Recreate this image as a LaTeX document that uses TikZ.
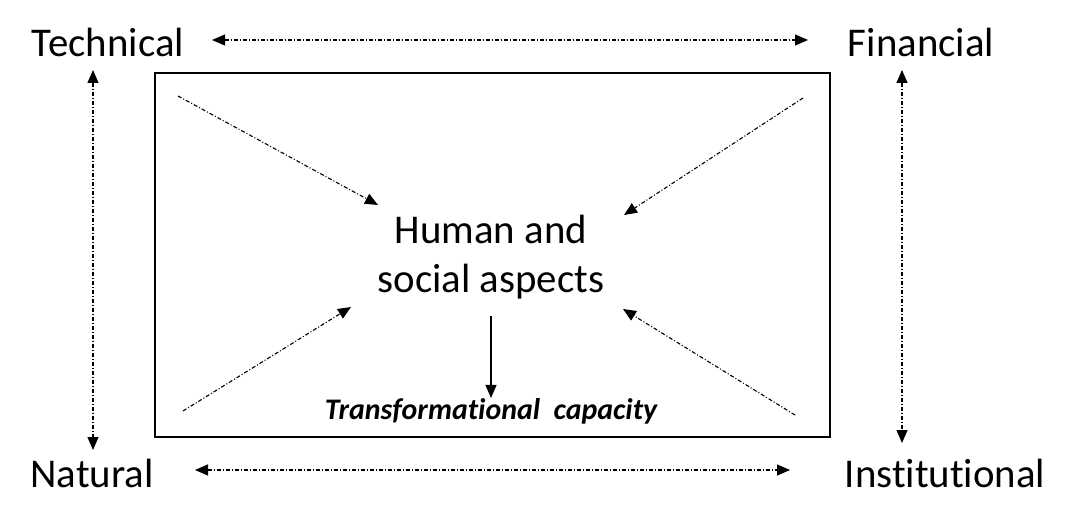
\documentclass[tikz,border=0pt]{standalone}
\usepackage{fontspec}
\setmainfont[Ligatures=NoCommon]{Carlito}
\usetikzlibrary{arrows.meta,positioning}

\begin{document}
\begin{tikzpicture}[
  x=1bp, y=-1bp,
  lbl/.style={font=\fontsize{41}{49}\selectfont, inner sep=0pt},
  darr/.style={{Triangle[length=13bp,width=11bp]}-{Triangle[length=13bp,width=11bp]}, line width=1.1bp,
    dash pattern=on 4bp off 2bp on 1bp off 2bp},
  inarr/.style={-{Triangle[length=13bp,width=11bp]}, line width=1.1bp,
    dash pattern=on 4bp off 2bp on 1bp off 2bp},
  arr/.style={-{Triangle[length=13bp,width=11bp]}, line width=1.1bp}
]
\useasboundingbox (0,0) rectangle (1077,523);
\node[lbl] (tech) at (108,42) {Technical};
\node[lbl] (fin) at (921,42) {Financial};
\node[lbl] (nat) at (92,473) {Natural};
\node[lbl] (inst) at (945,473) {Institutional};
\node[draw, line width=1.6bp, minimum width=675bp, minimum height=364bp, inner sep=0pt] (box) at (492.5,255) {};
\node[lbl, align=center] (hum) at (491,257) {Human and\\social aspects};
\node[font=\fontsize{30}{36}\selectfont\bfseries\itshape, inner sep=0pt] (trans) at (491,411) {Transformational~ capacity};
% outer links
\coordinate (t1) at (212,40);
\coordinate (t2) at (808,40);
\coordinate (n1) at (195,470);
\coordinate (n2) at (790,470);
\coordinate (v1) at (93,70);
\coordinate (v2) at (93,450);
\coordinate (w1) at (902,70);
\coordinate (w2) at (902,443);
\draw[darr] (t1) -- (t2);
\draw[darr] (n1) -- (n2);
\draw[darr] (v1) -- (v2);
\draw[darr] (w1) -- (w2);
% pointing in
\coordinate (tl) at (178,96);
\coordinate (tr) at (803,98);
\coordinate (bl) at (183,411);
\coordinate (br) at (795,415);
\coordinate (tl2) at (378,205);
\coordinate (tr2) at (624,215);
\coordinate (bl2) at (351,307);
\coordinate (br2) at (623,309);
\draw[inarr] (tl) -- (tl2);
\draw[inarr] (tr) -- (tr2);
\draw[inarr] (bl) -- (bl2);
\draw[inarr] (br) -- (br2);
\coordinate (h1) at (491,316);
\draw[arr] (h1) -- (h1 |- trans.north);
\end{tikzpicture}
\end{document}
